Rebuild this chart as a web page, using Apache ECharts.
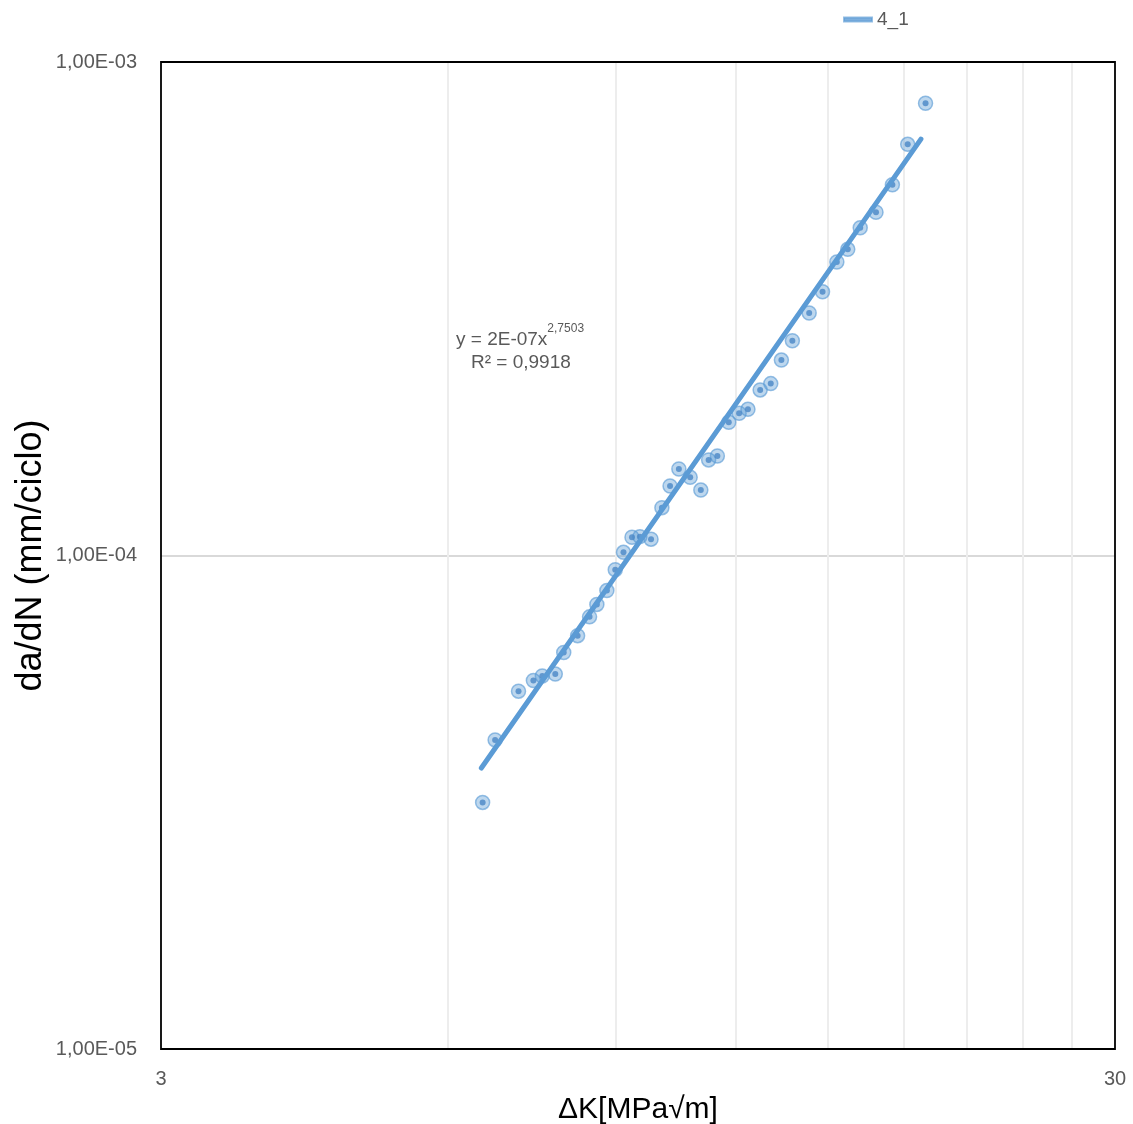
<!DOCTYPE html>
<html>
<head>
<meta charset="utf-8">
<script src="https://cdn.jsdelivr.net/npm/echarts@6/dist/echarts.min.js"></script>
<style>
html,body{margin:0;padding:0;background:#fff;}
#chart{width:1133px;height:1124px;}
</style>
</head>
<body>
<div id="chart"></div>
<script>
// Measured points (ΔK [MPa√m], da/dN [mm/ciclo])
const deltaK = [6.52, 6.72, 7.11, 7.37, 7.53, 7.77, 7.93, 8.20, 8.44, 8.59, 8.80, 8.98, 9.16, 9.35, 9.53, 9.79, 10.05, 10.25, 10.47, 10.76, 11.04, 11.25, 11.49, 11.81, 12.11, 12.37, 12.74, 13.07, 13.41, 13.77, 14.34, 14.81, 15.33, 15.74, 16.22, 16.85, 17.53, 18.19, 18.99];
const dadN = [3.16e-5, 4.23e-5, 5.31e-5, 5.58e-5, 5.70e-5, 5.75e-5, 6.36e-5, 6.88e-5, 7.51e-5, 7.96e-5, 8.49e-5, 9.36e-5, 1.015e-4, 1.089e-4, 1.092e-4, 1.079e-4, 1.250e-4, 1.383e-4, 1.497e-4, 1.440e-4, 1.357e-4, 1.562e-4, 1.591e-4, 1.862e-4, 1.942e-4, 1.978e-4, 2.165e-4, 2.230e-4, 2.489e-4, 2.724e-4, 3.100e-4, 3.423e-4, 3.933e-4, 4.173e-4, 4.615e-4, 4.960e-4, 5.641e-4, 6.811e-4, 8.248e-4];
// Power trendline end points
const trendK = [6.50, 18.78];
const trendRate = [3.71e-5, 6.98e-4];
// Minor gridline values
const xMinorGrid = [6, 9, 12, 15, 18, 21, 24, 27];
const yMinorGrid = [2e-5, 3e-5, 4e-5, 5e-5, 6e-5, 7e-5, 8e-5, 9e-5, 2e-4, 3e-4, 4e-4, 5e-4, 6e-4, 7e-4, 8e-4, 9e-4];
const xTickLabels = [3, 30];
const seriesName = '4_1';
const eqText = ['y = 2E-07x', '2,7503', 'R² = 0,9918'];

const points = deltaK.map((k, i) => [k, dadN[i]]);
const trend = trendK.map((k, i) => [k, trendRate[i]]);

function fmtSci(v) {
  const e = Math.round(Math.log10(v));
  const m = v / Math.pow(10, e);
  const ae = Math.abs(e);
  return m.toFixed(2).replace('.', ',') + 'E' + (e < 0 ? '-' : '+') + (ae < 10 ? '0' : '') + ae;
}

const chart = echarts.init(document.getElementById('chart'));
const FONT = '"Liberation Sans", Arial, sans-serif';
chart.setOption({
  animation: false,
  backgroundColor: '#fff',
  textStyle: { fontFamily: FONT },
  grid: { left: 161, right: 18, top: 62, bottom: 75, containLabel: false, outerBoundsMode: 'none',
          show: true, borderColor: '#000', borderWidth: 1.8, backgroundColor: 'transparent', z: 5 },
  legend: {
    left: 838, top: 5,
    itemWidth: 28, itemHeight: 4, itemGap: 10,
    textStyle: { color: '#595959', fontSize: 19, fontFamily: FONT },
    data: [{ name: seriesName, icon: 'rect', itemStyle: { color: '#5b9bd5' } }]
  },
  xAxis: {
    type: 'log', logBase: 10, min: 3, max: 30,
    name: 'ΔK[MPa√m]', nameLocation: 'middle', nameGap: 46, nameMoveOverlap: false,
    nameTextStyle: { color: '#000', fontSize: 30, fontFamily: FONT },
    axisLine: { show: false }, axisTick: { show: false },
    splitLine: { show: false },
    axisLabel: {
      color: '#595959', fontSize: 20, margin: 20, fontFamily: FONT,
      showMinLabel: true, showMaxLabel: true,
      formatter: v => {
        for (const t of xTickLabels) if (Math.abs(v - t) < 1e-6 * t) return String(t);
        return '';
      }
    }
  },
  yAxis: {
    type: 'log', logBase: 10, min: 1e-5, max: 1e-3,
    name: 'da/dN (mm/ciclo)', nameLocation: 'middle', nameGap: 112, nameMoveOverlap: false,
    nameTextStyle: { color: '#000', fontSize: 36, fontFamily: FONT },
    axisLine: { show: false }, axisTick: { show: false },
    splitLine: { show: true, showMinLine: false, showMaxLine: false, lineStyle: { color: '#d9d9d9', width: 2 } },
    axisLabel: { color: '#595959', fontSize: 20, margin: 24, fontFamily: FONT, formatter: v => fmtSci(v) }
  },
  series: [
    {
      name: 'grid', type: 'line', data: trend, z: 1, silent: true,
      symbol: 'none', lineStyle: { opacity: 0 },
      markLine: {
        silent: true, symbol: 'none', z: 1, animation: false,
        label: { show: false },
        lineStyle: { color: '#ededed', width: 2, type: 'solid' },
        emphasis: { disabled: true },
        data: xMinorGrid.map(v => ({ xAxis: v })).concat(yMinorGrid.map(v => ({ yAxis: v })))
      }
    },
    {
      name: seriesName, type: 'scatter', data: points, z: 2,
      symbol: 'circle', symbolSize: 14,
      itemStyle: { color: 'rgba(91,155,213,0.5)', borderColor: 'rgba(91,155,213,0.8)', borderWidth: 1.5 }
    },
    {
      name: seriesName, type: 'scatter', data: points, z: 3,
      symbol: 'circle', symbolSize: 6,
      itemStyle: { color: '#4a87c6' }
    },
    {
      name: seriesName, type: 'line', data: trend, z: 4,
      symbol: 'none',
      lineStyle: { color: '#5b9bd5', width: 5, cap: 'round' }
    }
  ],
  graphic: [
    {
      type: 'text', left: 456, top: 323, z: 10,
      style: {
        text: '{a|' + eqText[0] + '}{s|' + eqText[1] + '}',
        rich: {
          a: { fontSize: 19, fill: '#595959', fontFamily: FONT, lineHeight: 26, verticalAlign: 'bottom' },
          s: { fontSize: 12, fill: '#595959', fontFamily: FONT, verticalAlign: 'top' }
        }
      }
    },
    {
      type: 'text', left: 471, top: 353, z: 10,
      style: { text: eqText[2], fontSize: 19, fill: '#595959', fontFamily: FONT }
    }
  ]
});
</script>
</body>
</html>
